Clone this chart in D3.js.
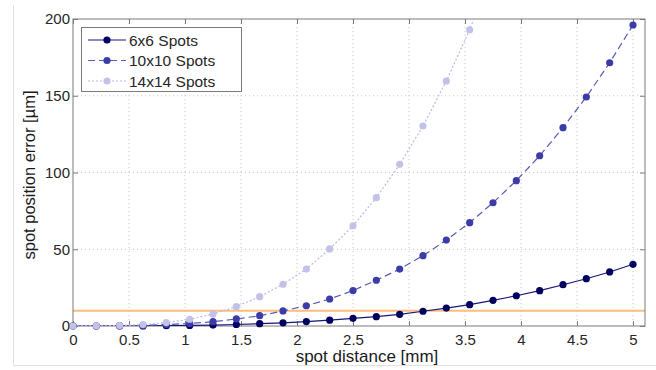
<!DOCTYPE html>
<html><head><meta charset="utf-8">
<script src="https://cdn.jsdelivr.net/npm/d3@7"></script>
<style>body{margin:0;background:#fff}svg{display:block;font-family:"Liberation Sans",Arial,sans-serif}</style>
</head><body><svg id="c" width="656" height="370"></svg>
<script>
const xVals = d3.range(25).map(i => i * 5 / 24);
const seriesNames = ["6x6 Spots", "10x10 Spots", "14x14 Spots"];
const v6 = [0,0.003,0.02,0.08,0.19,0.36,0.62,0.99,1.5,2.1,2.9,3.8,5.0,6.1,7.6,9.6,11.7,13.9,16.7,19.7,23.0,26.9,30.8,35.2,40.2];
const v10 = [0,0.01,0.1,0.38,0.9,1.7,2.8,4.6,6.7,9.8,13.2,17.6,23.1,29.8,37.1,45.8,56.0,67.3,80.3,94.7,110.9,129.2,149.2,171.5,196.1];
const v14 = [0,0.05,0.3,0.9,2.2,4.4,7.8,12.6,19.1,27.2,37.1,50.2,65.3,83.6,105.3,130.3,159.6,193.0,232];
const xTicks = [0,0.5,1,1.5,2,2.5,3,3.5,4,4.5,5];
const yTicks = [0,50,100,150,200];
const threshold = 10;
const colors = ["#00005e", "#3c3ca8", "#c2c2e8"];
const lineColors = ["#16167a", "#5a5ab8", "#b8b8ec"];
const dashes = [null, "7,4", "2,2"];

const svg = d3.select("#c");
const L = 73, R = 645, T = 19, B = 326;
const x = d3.scaleLinear().domain([0, 5]).range([73, 633]);
const y = d3.scaleLinear().domain([0, 200]).range([B, T]);

// faint frame
svg.append("line").attr("x1",13.5).attr("x2",13.5).attr("y1",5).attr("y2",365.5).attr("stroke","#e2e2e2");
svg.append("line").attr("x1",13.5).attr("x2",656).attr("y1",365.5).attr("y2",365.5).attr("stroke","#e2e2e2");

const defs = svg.append("defs");
defs.append("clipPath").attr("id","clip").append("rect")
  .attr("x",L).attr("y",T).attr("width",R-L).attr("height",B-T);
defs.append("clipPath").attr("id","clipM").append("rect")
  .attr("x",L-5).attr("y",T).attr("width",R-L+10).attr("height",B-T+5);

// grid
const g = svg.append("g");
xTicks.slice(1).forEach(t => g.append("line").attr("x1",x(t)).attr("x2",x(t)).attr("y1",T).attr("y2",B)
  .attr("stroke","#c8c8c8").attr("stroke-dasharray","1,3"));
yTicks.slice(1,-1).forEach(t => g.append("line").attr("x1",L).attr("x2",R).attr("y1",y(t)).attr("y2",y(t))
  .attr("stroke","#c8c8c8").attr("stroke-dasharray","1,3"));

// threshold line
svg.append("line").attr("x1",L).attr("x2",R).attr("y1",y(threshold)).attr("y2",y(threshold))
  .attr("stroke","#fbbd7e").attr("stroke-width",2);

// axes
const axB = svg.append("g").attr("transform",`translate(0,${B})`)
  .call(d3.axisBottom(x).tickValues(xTicks).tickFormat(d3.format("")).tickSizeInner(-5).tickSizeOuter(0).tickPadding(8));
const axT = svg.append("g").attr("transform",`translate(0,${T})`)
  .call(d3.axisTop(x).tickValues(xTicks).tickFormat("").tickSizeInner(-5).tickSizeOuter(0));
const axL = svg.append("g").attr("transform",`translate(${L},0)`)
  .call(d3.axisLeft(y).tickValues(yTicks).tickFormat(d3.format("")).tickSizeInner(-5).tickSizeOuter(0).tickPadding(3));
const axR = svg.append("g").attr("transform",`translate(${R},0)`)
  .call(d3.axisRight(y).tickValues(yTicks).tickFormat("").tickSizeInner(-5).tickSizeOuter(0));
[axB,axT,axL,axR].forEach(a => { a.selectAll(".domain").remove(); a.selectAll(".tick line").attr("stroke","#7a7a7a");
  a.selectAll("text").attr("font-size",15).attr("fill","#262626").attr("font-family","Liberation Sans, Arial, sans-serif"); });
axB.selectAll(".tick text").attr("dy","0.71em");
svg.append("rect").attr("x",L).attr("y",T).attr("width",R-L).attr("height",B-T)
  .attr("fill","none").attr("stroke","#7a7a7a").attr("stroke-width",1);

// series
const data = [v6, v10, v14];
const lineGen = d3.line().x(d => x(d[0])).y(d => y(d[1]));
[0,1,2].forEach(k => {
  const pts = data[k].map((v,i) => [xVals[i], v]);
  svg.append("path").attr("d", lineGen(pts)).attr("fill","none").attr("stroke",lineColors[k])
    .attr("stroke-width",1.2).attr("stroke-dasharray",dashes[k]).attr("clip-path","url(#clip)");
  svg.append("g").attr("clip-path","url(#clipM)").selectAll("circle").data(pts).enter().append("circle")
    .attr("cx",d => x(d[0])).attr("cy",d => y(d[1])).attr("r",3.6).attr("fill",colors[k]);
});

// legend
const lg = svg.append("g");
lg.append("rect").attr("x",81.5).attr("y",27.5).attr("width",160).attr("height",64).attr("fill","#fff").attr("stroke","#7a7a7a");
seriesNames.forEach((n,k) => {
  const yy = 40 + k*20.5;
  lg.append("line").attr("x1",88).attr("x2",126).attr("y1",yy).attr("y2",yy).attr("stroke",lineColors[k])
    .attr("stroke-width",1.2).attr("stroke-dasharray",dashes[k]);
  lg.append("circle").attr("cx",107).attr("cy",yy).attr("r",3.6).attr("fill",colors[k]);
  lg.append("text").attr("x",129).attr("y",yy+5.5).attr("font-size",15.5).attr("fill","#262626").text(n);
});

// labels
svg.append("text").attr("x",367).attr("y",362).attr("text-anchor","middle").attr("font-size",17).attr("fill","#1a1a1a").text("spot distance [mm]");
svg.append("text").attr("transform","translate(35,175) rotate(-90)").attr("text-anchor","middle").attr("font-size",16.5).attr("fill","#1a1a1a").text("spot position error [µm]");
</script></body></html>
